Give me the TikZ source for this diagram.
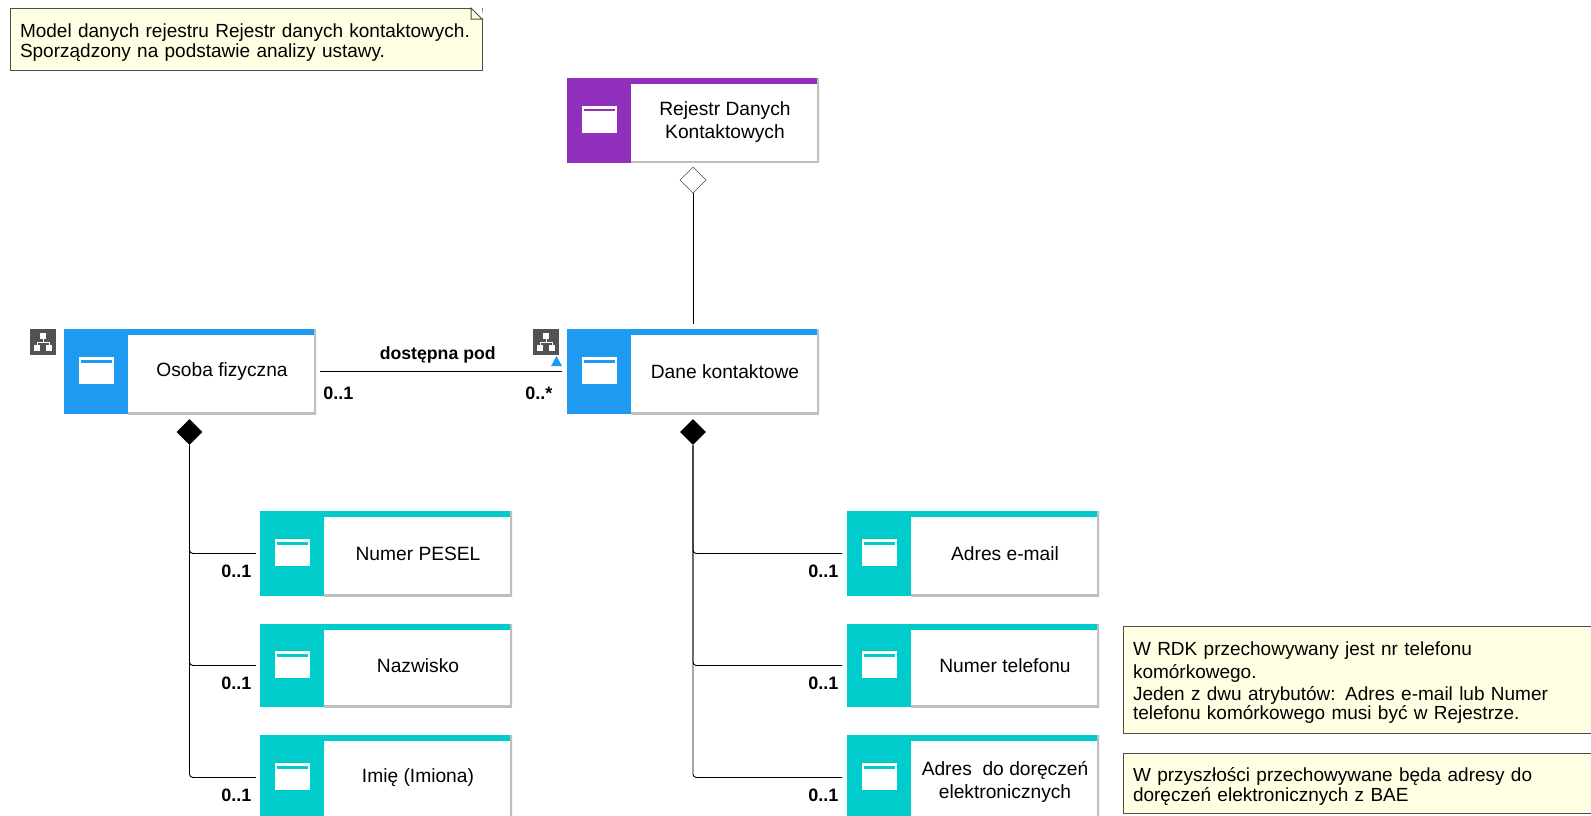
\documentclass[tikz,border=0pt]{standalone}
\usepackage{fontspec}
\setmainfont{Liberation Sans}
\usetikzlibrary{shapes,positioning}
\definecolor{notefill}{HTML}{FFFFE3}
\definecolor{blueclass}{HTML}{1E9BF0}
\definecolor{tealclass}{HTML}{00CCCC}
\definecolor{purpleclass}{HTML}{9030BC}
\newcommand{\boxfont}{\fontsize{14.4}{17}\selectfont}
\newcommand{\notestrut}{\rule{0pt}{15pt}}
\tikzstyle{classbody}=[rectangle, fill=white, align=center, inner sep=0pt, outer sep=0pt, font=\boxfont, minimum width=141pt, path picture={
  \fill[#1] (path picture bounding box.north west) rectangle ([yshift=-4.5pt]path picture bounding box.north east);
  \draw[black!25, line width=2.4pt] (path picture bounding box.north east) -- (path picture bounding box.south east) -- (path picture bounding box.south west);}]
\tikzstyle{classtab}=[rectangle, fill=#1, inner sep=0pt, outer sep=0pt, minimum width=48pt, path picture={
  \fill[white] ([shift={(-17.5,-14.5)}]path picture bounding box.center) rectangle +(35,27);
  \fill[#1] ([shift={(-15.5,-11.5)}]path picture bounding box.center) rectangle +(31,2.5);}]
\tikzstyle{treeicon}=[rectangle, fill=black!68, inner sep=0pt, outer sep=0pt, minimum size=19.5pt, path picture={
   \fill[white] ([shift={(10,4)}]path picture bounding box.north west) rectangle +(6,6);
   \fill[white] ([shift={(4,16)}]path picture bounding box.north west) rectangle +(6,6);
   \fill[white] ([shift={(16,16)}]path picture bounding box.north west) rectangle +(6,6);
   \draw[white, line width=0.75pt] ([shift={(13,10)}]path picture bounding box.north west) -- +(0,3);
   \draw[white, line width=0.75pt] ([shift={(7,16)}]path picture bounding box.north west) -- +(0,-3) -- +(12,-3) -- +(12,0);}]
\tikzstyle{notebox}=[rectangle, draw=black!70, fill=notefill, anchor=north west, align=left, inner sep=0pt, outer sep=0pt, font=\fontsize{14.25}{15}\selectfont]
\tikzstyle{multlabel}=[anchor=base west, inner sep=0pt, font=\fontsize{13.5}{15}\selectfont\bfseries]
\tikzstyle{fulldiamond}=[diamond, fill=black, inner sep=0pt, minimum size=19.5pt]
\tikzstyle{opendiamond}=[diamond, draw=black!70, fill=white, inner sep=0pt, minimum size=19.5pt]
\tikzstyle{assoc}=[draw=black, line width=0.7pt, rounded corners=2.5pt]
\newcommand{\classbox}[6][63.75pt]{
 \node[classbody=#3, minimum height=#1] (#2) at (#4,#5) {#6};
 \node[classtab=#3, minimum height=#1, left=0mm of #2] (#2-t) {};
}

\begin{document}
\begin{tikzpicture}[x=0.75pt,y=-0.75pt]
\useasboundingbox (0,0) rectangle (1591,815);

\classbox{rejestr}{purpleclass}{725}{120}{\rule{0pt}{13.5pt}Rejestr Danych\\Kontaktowych}
\classbox{osoba}{blueclass}{222}{371.5}{Osoba fizyczna}
\classbox{dane}{blueclass}{725}{371.5}{Dane kontaktowe}
\classbox{pesel}{tealclass}{418}{553.5}{Numer PESEL}
\classbox[62.25pt]{nazwisko}{tealclass}{418}{665.5}{Nazwisko}
\classbox{imie}{tealclass}{418}{777.5}{Imię (Imiona)}
\classbox{email}{tealclass}{1005}{553.5}{Adres e-mail}
\classbox[62.25pt]{telefon}{tealclass}{1005}{665.5}{Numer telefonu}
\classbox{adres}{tealclass}{1005}{777.5}{\rule{0pt}{17pt}Adres\ \ do doręczeń\\elektronicznych}

\node[treeicon] (tree1) at (43,342) {};
\node[treeicon] (tree2) at (546,342) {};
\node[opendiamond] (d1) at (693,180) {};
\node[fulldiamond] (d2) at (189.5,432) {};
\node[fulldiamond] (d3) at (693,432) {};

\node[notebox, minimum width=354pt, minimum height=46.5pt, text width=339pt] (n1) at (10,8) {\notestrut Model danych rejestru Rejestr danych kontaktowych.\\Sporządzony na podstawie analizy ustawy.};
\node[notebox, minimum width=360pt, minimum height=80.25pt, text width=345pt] (n2) at (1123,626) {\notestrut W RDK przechowywany jest nr telefonu\\[2pt]komórkowego.\\[1.25pt]Jeden z dwu atrybutów: Adres e-mail lub Numer\\[-0.75pt]telefonu komórkowego musi być w Rejestrze.};
\node[notebox, minimum width=360pt, minimum height=45pt, text width=345pt] (n3) at (1123,753) {\notestrut W przyszłości przechowywane będa adresy do\\doręczeń elektronicznych z BAE};
\fill[white] ([xshift=-8.25pt]n1.north east) -- ([yshift=1pt]n1.north east) -- ([xshift=1pt,yshift=-8.25pt]n1.north east) -- cycle;
\draw[black!70, line width=0.75pt] ([xshift=-8.25pt]n1.north east) -- ++(0,11) -- ++(11,0) -- cycle;

\draw[assoc, shorten >=3.75pt] (d1.south) -- (d1.south |- dane.north);
\draw[assoc, shorten <=3pt, shorten >=3.75pt] (osoba.east) -- node[pos=0.485, above=2.75pt, font=\fontsize{13.25}{15}\selectfont\bfseries] (assoc1) {dostępna pod} (dane-t.west);
\fill[blueclass] (551,366) -- (556.5,356) -- (562,366) -- cycle;

\draw[assoc, shorten >=3pt] (d2.south) |- (pesel-t.west);
\draw[assoc, shorten >=3pt] (d2.south) |- (nazwisko-t.west);
\draw[assoc, shorten >=3pt] (d2.south) |- (imie-t.west);
\draw[assoc, shorten >=3.75pt] (d3.south) |- (email-t.west);
\draw[assoc, shorten >=3.75pt] (d3.south) |- (telefon-t.west);
\draw[assoc, shorten >=3.75pt] (d3.south) |- (adres-t.west);

\node[multlabel] (m1) at (323,399) {0..1};
\node[multlabel] (m2) at (525,399) {0..*};
\node[multlabel] (m3) at (221,577) {0..1};
\node[multlabel] (m4) at (221,689) {0..1};
\node[multlabel] (m5) at (221,801) {0..1};
\node[multlabel] (m6) at (808,577) {0..1};
\node[multlabel] (m7) at (808,689) {0..1};
\node[multlabel] (m8) at (808,801) {0..1};

\end{tikzpicture}
\end{document}
